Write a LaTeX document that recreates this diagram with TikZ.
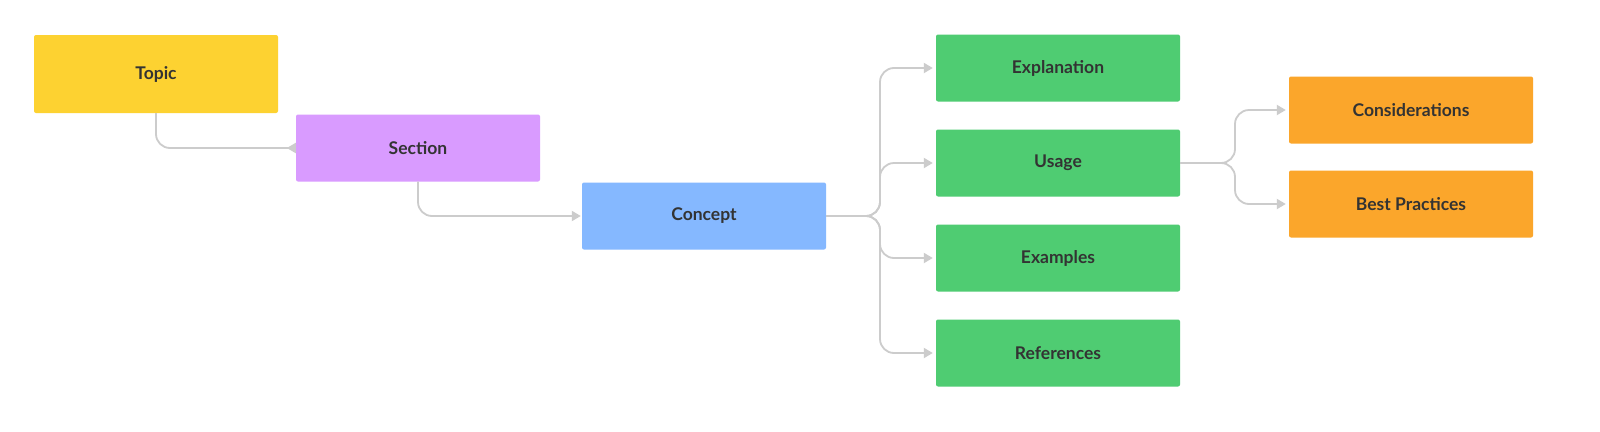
\documentclass[tikz,border=0pt]{standalone}
\usepackage{fontspec}
\setmainfont{Lato}
\usetikzlibrary{arrows.meta}
\definecolor{cy}{HTML}{FDD231}
\definecolor{cp}{HTML}{D99BFF}
\definecolor{cb}{HTML}{85B8FF}
\definecolor{cg}{HTML}{4FCC72}
\definecolor{co}{HTML}{FBA62B}
\definecolor{cl}{HTML}{CCCCCC}
\definecolor{ct}{HTML}{333333}
\begin{document}
\begin{tikzpicture}[x=1pt,y=-1pt,
 box/.style={draw=none,rounded corners=2pt,minimum width=244pt,minimum height=67pt,inner sep=0pt,
   font=\fontsize{17.5}{19}\selectfont\bfseries,text=ct},
 con/.style={draw=cl,line width=1.8pt,rounded corners=14pt,-{Triangle[length=9pt,width=10pt]}}]
\useasboundingbox[fill=white] (0,0) rectangle (1600,431);
\node[box,fill=cy,minimum height=78pt] (topic) at (156,74) {Topic};
\node[box,fill=cp] (section) at (418,148) {Section};
\node[box,fill=cb] (concept) at (704,216) {Concept};
\node[box,fill=cg] (expl) at (1058,68) {Explanation};
\node[box,fill=cg] (usage) at (1058,163) {Usage};
\node[box,fill=cg] (ex) at (1058,258) {Examples};
\node[box,fill=cg] (ref) at (1058,353) {References};
\node[box,fill=co] (cons) at (1411,110) {Considerations};
\node[box,fill=co] (best) at (1411,204) {Best Practices};
\draw[con,-{Triangle[length=9pt,width=10pt,reversed]}] (topic.south) |- (section.west);
\draw[con] (section.south) |- ([xshift=-1pt]concept.west);
\coordinate (b1) at (880,216);
\foreach \n in {expl,usage,ex,ref}
  \draw[con] (concept.east) -- (b1) |- ([xshift=-3pt]\n.west);
\coordinate (b2) at (1235,163);
\foreach \n in {cons,best}
  \draw[con] (usage.east) -- (b2) |- ([xshift=-3pt]\n.west);
\end{tikzpicture}
\end{document}
